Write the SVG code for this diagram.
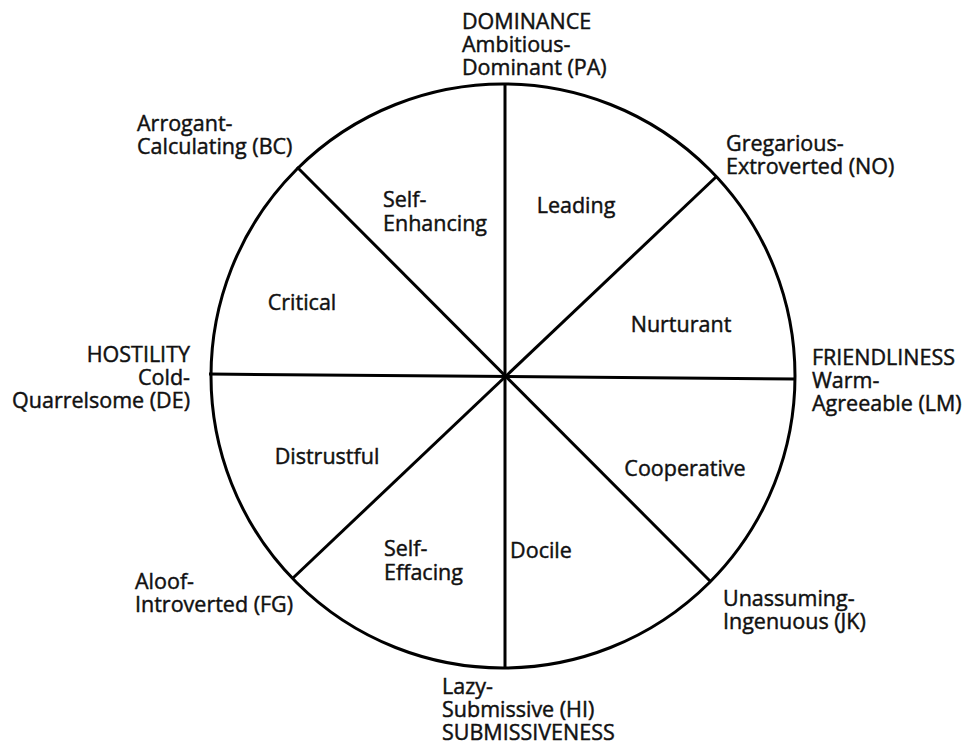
<svg xmlns="http://www.w3.org/2000/svg" width="967" height="745" viewBox="0 0 967 745">
  <style>
    .ln { stroke: #000; stroke-width: 3; fill: none; stroke-linecap: butt; }
    text { font-family: "Open Sans", "Liberation Sans", sans-serif; font-size: 21.5px; fill: #111; stroke: #111; stroke-width: 0.45; }
    .end { text-anchor: end; }
    .mid { text-anchor: middle; }
  </style>
  <rect width="967" height="745" fill="#fff"/>

  <!-- circle and dividing spokes -->
  <g id="connectors">
    <circle class="ln" cx="503" cy="376" r="292"/>
    <line class="ln" x1="505" y1="84" x2="505" y2="667"/>
    <line class="ln" x1="209" y1="374" x2="796" y2="379"/>
    <line class="ln" x1="297" y1="167" x2="711" y2="582"/>
    <line class="ln" x1="716" y1="177" x2="293" y2="578"/>
  </g>

  <!-- outer octant labels (multi-line, one text each) -->
  <g id="node-PA">
    <text x="462" y="29">DOMINANCE<tspan x="462" dy="23">Ambitious-</tspan><tspan x="462" dy="23">Dominant (PA)</tspan></text>
  </g>
  <g id="node-BC">
    <text x="137" y="131">Arrogant-<tspan x="137" dy="23">Calculating (BC)</tspan></text>
  </g>
  <g id="node-NO">
    <text x="726" y="151">Gregarious-<tspan x="726" dy="23">Extroverted (NO)</tspan></text>
  </g>
  <g id="node-DE">
    <text class="end" x="190" y="362">HOSTILITY<tspan x="190" dy="23">Cold-</tspan><tspan x="190" dy="23">Quarrelsome (DE)</tspan></text>
  </g>
  <g id="node-LM">
    <text x="812" y="365">FRIENDLINESS<tspan x="812" dy="23">Warm-</tspan><tspan x="812" dy="23">Agreeable (LM)</tspan></text>
  </g>
  <g id="node-FG">
    <text x="135" y="589">Aloof-<tspan x="135" dy="23">Introverted (FG)</tspan></text>
  </g>
  <g id="node-JK">
    <text x="723" y="606">Unassuming-<tspan x="723" dy="23">Ingenuous (JK)</tspan></text>
  </g>
  <g id="node-HI">
    <text x="442" y="694">Lazy-<tspan x="442" dy="23">Submissive (HI)</tspan><tspan x="442" dy="23">SUBMISSIVENESS</tspan></text>
  </g>

  <!-- inner octant labels -->
  <g id="node-leading"><text class="mid" x="576" y="213">Leading</text></g>
  <g id="node-self-enhancing">
    <text x="383" y="207">Self-<tspan x="383" dy="24">Enhancing</tspan></text>
  </g>
  <g id="node-critical"><text class="mid" x="302" y="310">Critical</text></g>
  <g id="node-nurturant"><text class="mid" x="681" y="332">Nurturant</text></g>
  <g id="node-distrustful"><text class="mid" x="327" y="464">Distrustful</text></g>
  <g id="node-cooperative"><text class="mid" x="685" y="476">Cooperative</text></g>
  <g id="node-self-effacing">
    <text x="384" y="556">Self-<tspan x="384" dy="24">Effacing</tspan></text>
  </g>
  <g id="node-docile"><text class="mid" x="541" y="558">Docile</text></g>
</svg>
